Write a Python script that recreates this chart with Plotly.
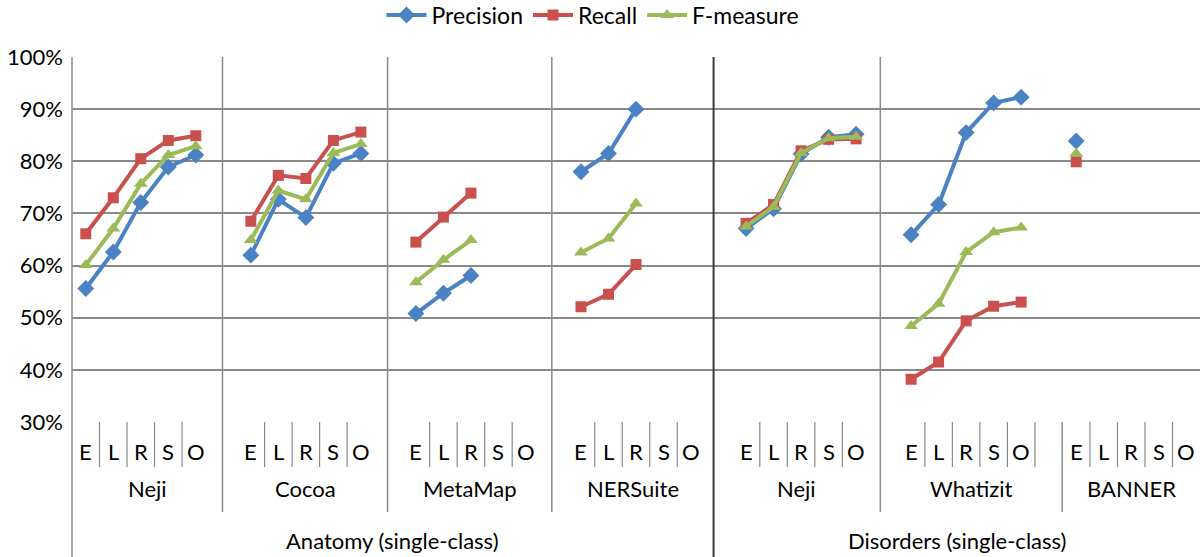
import plotly.graph_objects as go

# ---------------- data ----------------
corpora = ["Anatomy (single-class)", "Disorders (single-class)"]
corpus_group_counts = [4, 3]
groups = ["Neji", "Cocoa", "MetaMap", "NERSuite", "Neji", "Whatizit", "BANNER"]
methods = ["E", "L", "R", "S", "O"]

precision = [
    [55.6, 62.6, 72.1, 78.9, 81.2],
    [62.0, 72.7, 69.2, 79.6, 81.5],
    [50.8, 54.7, 58.1, None, None],
    [78.0, 81.5, 90.0, None, None],
    [67.1, 70.9, 81.4, 84.6, 85.2],
    [65.9, 71.7, 85.5, 91.2, 92.3],
    [83.9, None, None, None, None],
]
recall = [
    [66.1, 73.0, 80.5, 84.0, 84.9],
    [68.5, 77.3, 76.7, 84.0, 85.6],
    [64.5, 69.3, 73.9, None, None],
    [52.1, 54.5, 60.2, None, None],
    [68.1, 71.7, 82.0, 84.2, 84.3],
    [38.2, 41.5, 49.4, 52.2, 53.0],
    [79.9, None, None, None, None],
]
fmeasure = [
    [60.1, 67.1, 75.7, 81.2, 82.9],
    [64.9, 74.4, 72.7, 81.6, 83.3],
    [56.8, 61.1, 64.9, None, None],
    [62.5, 65.2, 71.9, None, None],
    [67.5, 71.3, 81.6, 84.4, 84.7],
    [48.4, 52.7, 62.6, 66.4, 67.3],
    [81.5, None, None, None, None],
]

# ---------------- layout constants ----------------
W, H = 1200, 557
L_M, R_M, T_M, B_M = 72, 0, 57, 135
SLOT = 6                       # 5 methods + 1 spacer per group
NCAT = SLOT * len(groups) - 1  # 41 category slots
# group boundaries (in category units) as drawn in the original
group_bounds = [0, 5.47, 11.47, 17.44, 23.32, 29.38, 35.99, NCAT]
inplot_bounds = [5.47, 11.47, 17.44, 23.32, 29.38]
corpus_bounds = [0, 23.32, NCAT]
extra_ticks = [35.0]

FONT = "Lato, 'Open Sans', sans-serif"
FS = 22
GRID = "#8a8a8a"
DARK = "#3a3a3a"
plot_h = H - T_M - B_M


def ypaper(py):
    return (H - B_M - py) / plot_h


def xpaper(c):
    return c / NCAT


def build(series):
    xs, ys = [], []
    for g, vals in enumerate(series):
        for k, v in enumerate(vals):
            xs.append(SLOT * g + k + 0.5)
            ys.append(None if v is None else v / 100.0)
        xs.append(None)
        ys.append(None)
    return xs, ys


fig = go.Figure()
styles = [
    ("Precision", precision, "#4A82C3", "diamond", 13),
    ("Recall", recall, "#C9504D", "square", 11),
    ("F-measure", fmeasure, "#9BBB59", "triangle-up", 12),
]
for name, data, color, sym, size in styles:
    xs, ys = build(data)
    fig.add_trace(go.Scatter(
        x=xs, y=ys, name=name, mode="lines+markers",
        line=dict(color=color, width=4),
        marker=dict(symbol=sym, size=size, color=color),
        connectgaps=False,
    ))

shapes = []
for b in group_bounds[1:-1]:
    inside = b in inplot_bounds
    is_corpus = b in corpus_bounds
    y1 = 1 if inside else 0
    y0 = ypaper(557) if is_corpus else ypaper(512)
    shapes.append(dict(type="line", xref="paper", yref="paper",
                       x0=xpaper(b), x1=xpaper(b), y0=y0, y1=y1,
                       line=dict(color=DARK if is_corpus else GRID,
                                 width=2 if is_corpus else 1.5)))
# left axis line
shapes.append(dict(type="line", xref="paper", yref="paper", x0=0, x1=0,
                   y0=ypaper(557), y1=1, line=dict(color=GRID, width=1.5)))
# short category ticks
tick_pos = []
for g in range(len(groups)):
    for k in range(1, len(methods)):
        tick_pos.append(SLOT * g + k)
tick_pos += extra_ticks
for t in tick_pos:
    shapes.append(dict(type="line", xref="paper", yref="paper",
                       x0=xpaper(t), x1=xpaper(t), y0=ypaper(467), y1=0,
                       line=dict(color=GRID, width=1.2)))

afont = dict(size=FS, color="black", family=FONT)
annotations = []
for g in range(len(groups)):
    for k, m in enumerate(methods):
        annotations.append(dict(x=SLOT * g + k + 0.5, xref="x",
                                y=ypaper(451), yref="paper", text=m,
                                xanchor="center", yanchor="middle",
                                showarrow=False, font=afont))
for g, name in enumerate(groups):
    c = (group_bounds[g] + group_bounds[g + 1]) / 2
    annotations.append(dict(x=xpaper(c), xref="paper", y=ypaper(488), yref="paper",
                            text=name, xanchor="center", yanchor="middle",
                            showarrow=False, font=afont))
for i, name in enumerate(corpora):
    c = (corpus_bounds[i] + corpus_bounds[i + 1]) / 2
    annotations.append(dict(x=xpaper(c), xref="paper", y=ypaper(540), yref="paper",
                            text=name, xanchor="center", yanchor="middle",
                            showarrow=False, font=afont))

fig.update_layout(
    width=W, height=H,
    margin=dict(l=L_M, r=R_M, t=T_M, b=B_M, autoexpand=False),
    paper_bgcolor="white", plot_bgcolor="white",
    font=dict(family=FONT, size=FS, color="black"),
    xaxis=dict(range=[0, NCAT], showgrid=False, showticklabels=False,
               zeroline=False, showline=False, ticks="", automargin=False),
    yaxis=dict(range=[0.3, 1.0], dtick=0.1, tickformat=".0%",
               showgrid=True, gridcolor=GRID, gridwidth=1.5,
               zeroline=False, showline=False, ticks="",
               ticklabelstandoff=8, automargin=False,
               tickfont=dict(size=FS, family=FONT)),
    legend=dict(orientation="h", x=(593 - L_M) / (W - L_M), xanchor="center",
                y=ypaper(15), yref="paper", yanchor="middle",
                font=dict(size=23, family=FONT), itemwidth=40,
                traceorder="normal"),
    shapes=shapes,
    annotations=annotations,
    showlegend=True,
)

fig.write_html("out.html", config={"displayModeBar": False},
               post_script="document.body.style.margin='0px';")
